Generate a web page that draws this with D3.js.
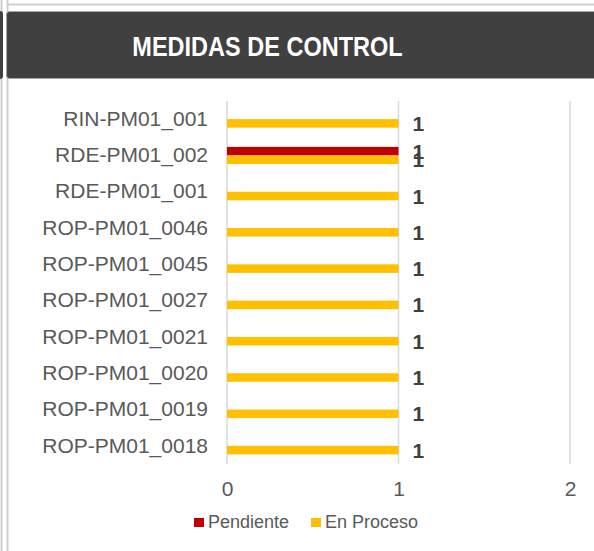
<!DOCTYPE html>
<html lang="en">
    <head>
        <meta charset="utf-8" />
        <script src="https://cdn.jsdelivr.net/npm/d3@7"></script>
        <style>
            body { margin: 0; background: #fff; }
            text { font-family: "Liberation Sans", Arial, sans-serif; }
        </style>
    </head>
    <body>
        <script>
            var categories = ["RIN-PM01_001", "RDE-PM01_002", "RDE-PM01_001", "ROP-PM01_0046", "ROP-PM01_0045",
                              "ROP-PM01_0027", "ROP-PM01_0021", "ROP-PM01_0020", "ROP-PM01_0019", "ROP-PM01_0018"];
            var seriesNames = ["Pendiente", "En Proceso"];
            var pendiente = [null, 1, null, null, null, null, null, null, null, null];
            var enProceso = [1, 1, 1, 1, 1, 1, 1, 1, 1, 1];
            var colors = ["#c00000", "#ffc000"];
            var xTicks = [0, 1, 2];

            var width = 594, height = 551;

            var svg = d3.select("body").append("svg")
                .attr("width", width)
                .attr("height", height);

            // panel frame
            svg.append("line").attr("x1", 1.5).attr("x2", 1.5).attr("y1", 0).attr("y2", height)
                .attr("stroke", "#d0d0d0").attr("stroke-width", 2);
            svg.append("line").attr("x1", 7.5).attr("x2", 7.5).attr("y1", 0).attr("y2", height)
                .attr("stroke", "#d0d0d0").attr("stroke-width", 2);
            svg.append("line").attr("x1", 7).attr("x2", width).attr("y1", 4.5).attr("y2", 4.5)
                .attr("stroke", "#d0d0d0").attr("stroke-width", 2);

            // header
            svg.append("rect").attr("x", -10).attr("y", 11).attr("width", 13).attr("height", 68)
                .attr("rx", 3).attr("fill", "#404040");
            svg.append("rect").attr("x", 6.5).attr("y", 11.5).attr("width", 600).attr("height", 67)
                .attr("rx", 3).attr("fill", "#404040").attr("stroke", "#a6a6a6");
            svg.append("text")
                .attr("transform", "translate(267.5,56) scale(0.84,1)")
                .attr("text-anchor", "middle")
                .attr("fill", "#fff")
                .style("font-size", "28px").style("font-weight", "bold")
                .text("MEDIDAS DE CONTROL");

            var x = d3.scaleLinear().domain([0, 2]).range([227, 570]);
            var y = d3.scaleBand().domain(categories).range([101, 464])
                .paddingInner(0.53).paddingOuter(0.265);
            var ySub = d3.scaleBand().domain(seriesNames).range([0, y.bandwidth()]);

            // gridlines
            svg.append("g").selectAll("line").data(xTicks).join("line")
                .attr("x1", function (d) { return x(d); })
                .attr("x2", function (d) { return x(d); })
                .attr("y1", 101).attr("y2", 464)
                .attr("stroke", "#d9d9d9").attr("stroke-width", 1.5);

            // x axis
            var xAxis = svg.append("g")
                .attr("transform", "translate(0,481)")
                .call(d3.axisBottom(x).tickValues(xTicks).tickSize(0).tickPadding(0).tickFormat(d3.format("d")));
            xAxis.select(".domain").remove();
            xAxis.selectAll("text").attr("fill", "#595959").style("font-size", "21px")
                .style("font-family", "'Liberation Sans', Arial, sans-serif");

            // y axis
            var yAxis = svg.append("g")
                .attr("transform", "translate(208,0)")
                .call(d3.axisLeft(y).tickSize(0).tickPadding(0));
            yAxis.select(".domain").remove();
            yAxis.selectAll("text").attr("fill", "#595959").style("font-size", "21px")
                .style("font-family", "'Liberation Sans', Arial, sans-serif");

            var rows = [];
            categories.forEach(function (c, i) {
                rows.push({ cat: c, s: 0, v: pendiente[i] });
                rows.push({ cat: c, s: 1, v: enProceso[i] });
            });
            rows = rows.filter(function (d) { return d.v != null; });

            svg.append("g").selectAll("rect").data(rows).join("rect")
                .attr("x", x(0))
                .attr("y", function (d) { return y(d.cat) + ySub(seriesNames[d.s]); })
                .attr("width", function (d) { return x(d.v) - x(0); })
                .attr("height", ySub.bandwidth())
                .attr("fill", function (d) { return colors[d.s]; });

            svg.append("g").selectAll("text").data(rows).join("text")
                .attr("x", function (d) { return x(d.v) + 14; })
                .attr("y", function (d) { return y(d.cat) + ySub(seriesNames[d.s]) + ySub.bandwidth() / 2 + 7.5; })
                .attr("fill", "#404040")
                .style("font-size", "21px").style("font-weight", "bold")
                .text(function (d) { return d.v; });

            // legend
            var legendX = [194, 311];
            var legend = svg.append("g").selectAll("g").data(seriesNames).join("g")
                .attr("transform", function (d, i) { return "translate(" + legendX[i] + ",518)"; });
            legend.append("rect").attr("width", 10).attr("height", 9)
                .attr("fill", function (d, i) { return colors[i]; });
            legend.append("text").attr("x", 14).attr("y", 10)
                .attr("fill", "#595959").style("font-size", "18px")
                .text(function (d) { return d; });
        </script>
    </body>
</html>
